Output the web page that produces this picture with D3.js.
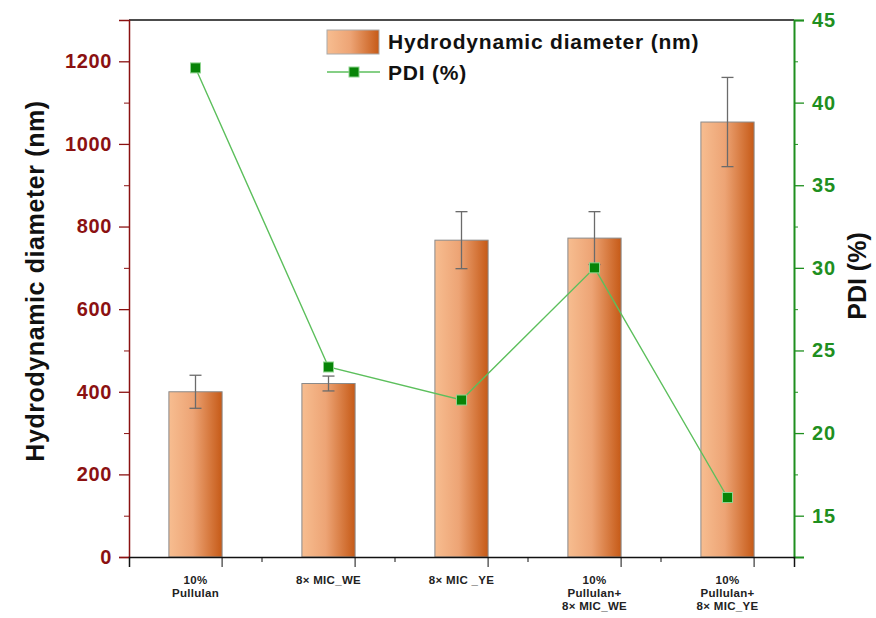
<!DOCTYPE html>
<html>
<head>
<meta charset="utf-8">
<script src="https://cdn.jsdelivr.net/npm/d3@7"></script>
<style>
  body { margin: 0; background: #fff; }
  text { font-family: Arial, "Liberation Sans", sans-serif; }
</style>
</head>
<body>
<div id="chart"></div>
<script>
// data
var categories = [["10%", "Pullulan"], ["8× MIC_WE"], ["8× MIC _YE"],
                  ["10%", "Pullulan+", "8× MIC_WE"], ["10%", "Pullulan+", "8× MIC_YE"]];
var diameter = [400, 420, 767, 772, 1053];
var diameterErr = [40, 18, 69, 64, 108];
var pdi = [42.1, 24.0, 22.0, 30.0, 16.1];
var leftTicks = [0, 200, 400, 600, 800, 1000, 1200];
var rightTicks = [15, 20, 25, 30, 35, 40, 45];

var W = 876, H = 618;
var m = {left: 129, right: 82, top: 20, bottom: 61};
var red = "#8b1111", green = "#1f8f1f";

var svg = d3.select("#chart").append("svg")
    .attr("width", W)
    .attr("height", H);

var defs = svg.append("defs");
var grad = defs.append("linearGradient").attr("id", "barGrad")
    .attr("x1", "0%").attr("x2", "100%").attr("y1", "0%").attr("y2", "0%");
grad.append("stop").attr("offset", "0%").attr("stop-color", "#f7bd90");
grad.append("stop").attr("offset", "45%").attr("stop-color", "#eda475");
grad.append("stop").attr("offset", "100%").attr("stop-color", "#c65a17");

var x = d3.scaleBand()
    .domain(d3.range(categories.length))
    .range([m.left, W - m.right])
    .paddingInner(0.6)
    .paddingOuter(0.3);
var step = x.step();
var y = d3.scaleLinear().domain([0, 1300]).range([H - m.bottom, m.top]);
var y2 = d3.scaleLinear().domain([12.5, 45]).range([H - m.bottom, m.top]);

var g = svg.append("g");

//Bars
g.selectAll(".bar").data(diameter).enter().append("rect")
    .attr("class", "bar")
    .attr("x", function(d, i) { return x(i); })
    .attr("y", function(d) { return y(d); })
    .attr("width", x.bandwidth())
    .attr("height", function(d) { return y(0) - y(d); })
    .attr("fill", "url(#barGrad)")
    .attr("stroke", "#8a8a8a")
    .attr("stroke-width", 1);

//Error bars
var eb = g.selectAll(".err").data(diameter).enter().append("g")
    .attr("class", "err")
    .attr("stroke", "#6b6b6b")
    .attr("stroke-width", 1.3);
eb.append("line")
    .attr("x1", function(d, i) { return x(i) + x.bandwidth() / 2; })
    .attr("x2", function(d, i) { return x(i) + x.bandwidth() / 2; })
    .attr("y1", function(d, i) { return y(d + diameterErr[i]); })
    .attr("y2", function(d, i) { return y(d - diameterErr[i]); });
eb.selectAll(".cap").data(function(d, i) { return [[i, d + diameterErr[i]], [i, d - diameterErr[i]]]; })
  .enter().append("line")
    .attr("x1", function(d) { return x(d[0]) + x.bandwidth() / 2 - 6; })
    .attr("x2", function(d) { return x(d[0]) + x.bandwidth() / 2 + 6; })
    .attr("y1", function(d) { return y(d[1]); })
    .attr("y2", function(d) { return y(d[1]); });

//Top frame line
svg.append("line")
    .attr("x1", m.left).attr("x2", W - m.right)
    .attr("y1", m.top).attr("y2", m.top)
    .attr("stroke", "#111").attr("stroke-width", 1.5);

//Left axis
var yAxis = svg.append("g").attr("transform", "translate(" + m.left + ",0)")
    .call(d3.axisLeft(y).tickValues(leftTicks).tickSize(10).tickPadding(7).tickFormat(d3.format("d")));
svg.append("g").attr("transform", "translate(" + m.left + ",0)")
    .call(d3.axisLeft(y).tickValues(d3.range(100, 1300, 200)).tickSize(5).tickFormat(""))
    .call(function(s) { s.select(".domain").remove(); s.selectAll("line").attr("stroke", red); });
yAxis.select(".domain").attr("stroke", red).attr("stroke-width", 1.5);
yAxis.selectAll("line").attr("stroke", red).attr("stroke-width", 1.3);
yAxis.selectAll("text").attr("fill", red).style("font-size", "20px").style("font-weight", "bold")
    .style("letter-spacing", "0.6px");

//Right axis
var y2Axis = svg.append("g").attr("transform", "translate(" + (W - m.right) + ",0)")
    .call(d3.axisRight(y2).tickValues(rightTicks).tickSize(10).tickPadding(8));
svg.append("g").attr("transform", "translate(" + (W - m.right) + ",0)")
    .call(d3.axisRight(y2).tickValues([17.5, 22.5, 27.5, 32.5, 37.5, 42.5]).tickSize(4).tickFormat(""))
    .call(function(s) { s.select(".domain").remove(); s.selectAll("line").attr("stroke", green); });
y2Axis.select(".domain").attr("stroke", green).attr("stroke-width", 2);
y2Axis.selectAll("line").attr("stroke", green).attr("stroke-width", 1.3);
y2Axis.selectAll("text").attr("fill", green).style("font-size", "20px").style("font-weight", "bold")
    .style("letter-spacing", "0.8px");

//Bottom axis
var xAxis = svg.append("g").attr("transform", "translate(0," + (H - m.bottom) + ")")
    .call(d3.axisBottom(x).tickSize(10).tickFormat(""));
xAxis.selectAll(".tick line")
    .attr("transform", "translate(" + (x.bandwidth() / 2) + ",0)");
xAxis.select(".domain").attr("stroke", "#111").attr("stroke-width", 1.5);
xAxis.selectAll("line").attr("stroke", "#111");
xAxis.selectAll(".minor").data(d3.range(1, categories.length)).enter().append("line")
    .attr("class", "minor")
    .attr("x1", function(d) { return x(d) + x.bandwidth() / 2 - step / 2; })
    .attr("x2", function(d) { return x(d) + x.bandwidth() / 2 - step / 2; })
    .attr("y1", 0).attr("y2", 5)
    .attr("stroke", "#111");

var xl = svg.selectAll(".xlab").data(categories).enter().append("text")
    .attr("class", "xlab")
    .attr("text-anchor", "middle")
    .attr("fill", "#222")
    .style("font-size", "11.5px")
    .style("font-weight", "bold")
    .style("letter-spacing", "0.3px")
    .attr("transform", function(d, i) { return "translate(" + (x(i) + x.bandwidth() / 2) + "," + (H - m.bottom + 27) + ")"; });
xl.selectAll("tspan").data(function(d) { return d; }).enter().append("tspan")
    .attr("x", 0)
    .attr("dy", function(d, i) { return i === 0 ? 0 : 13; })
    .text(function(d) { return d; });

//PDI line
var line = d3.line()
    .x(function(d, i) { return x(i) + x.bandwidth() / 2; })
    .y(function(d) { return y2(d); });
svg.append("path").datum(pdi)
    .attr("d", line)
    .attr("fill", "none")
    .attr("stroke", "#5cbf5c")
    .attr("stroke-width", 1.4);
svg.selectAll(".pt").data(pdi).enter().append("rect")
    .attr("class", "pt")
    .attr("x", function(d, i) { return x(i) + x.bandwidth() / 2 - 5; })
    .attr("y", function(d) { return y2(d) - 5; })
    .attr("width", 10).attr("height", 10)
    .attr("fill", "#078407")
    .attr("stroke", "#8fd48f")
    .attr("stroke-width", 1);

//Axis titles
svg.append("text")
    .attr("transform", "translate(44,281) rotate(-90)")
    .attr("text-anchor", "middle")
    .style("font-size", "25px").style("font-weight", "bold")
    .style("letter-spacing", "0.6px")
    .attr("fill", "#111")
    .text("Hydrodynamic diameter (nm)");
svg.append("text")
    .attr("transform", "translate(866,276) rotate(-90)")
    .attr("text-anchor", "middle")
    .style("font-size", "25px").style("font-weight", "bold")
    .attr("fill", "#111")
    .text("PDI (%)");

//Legend
var lg = svg.append("g").attr("transform", "translate(327,30)");
lg.append("rect")
    .attr("width", 52).attr("height", 24)
    .attr("fill", "url(#barGrad)")
    .attr("stroke", "#aaa");
lg.append("text").attr("x", 61).attr("y", 19)
    .style("font-size", "21px").style("font-weight", "bold").style("letter-spacing", "0.8px")
    .attr("fill", "#111")
    .text("Hydrodynamic diameter (nm)");
lg.append("line").attr("x1", 0).attr("x2", 53).attr("y1", 42).attr("y2", 42)
    .attr("stroke", "#5cbf5c").attr("stroke-width", 1.4);
lg.append("rect").attr("x", 22).attr("y", 37).attr("width", 10).attr("height", 10)
    .attr("fill", "#078407").attr("stroke", "#8fd48f");
lg.append("text").attr("x", 61).attr("y", 50)
    .style("font-size", "21px").style("font-weight", "bold").style("letter-spacing", "0.8px")
    .attr("fill", "#111")
    .text("PDI (%)");
</script>
</body>
</html>
